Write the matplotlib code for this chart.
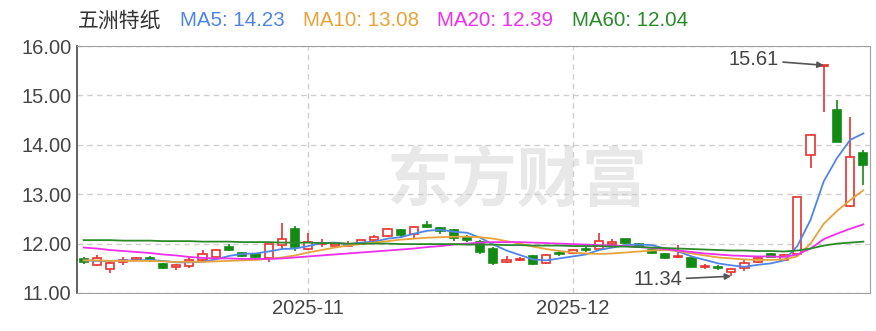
import matplotlib
matplotlib.use('Agg')
import matplotlib.pyplot as plt
import numpy as np
import pandas as pd

plt.rcParams['font.family'] = ['Liberation Sans', 'Noto Sans CJK SC', 'DejaVu Sans']

# trading days shown (Oct 9 - Dec 31 2025)
dates = pd.bdate_range('2025-10-09', '2025-12-31')

opens = [11.68, 11.56, 11.48, 11.63, 11.66, 11.71, 11.58, 11.52, 11.55, 11.67,
         11.73, 11.93, 11.80, 11.78, 11.70, 11.97, 12.29, 11.90, 12.00, 11.96,
         11.95, 12.00, 12.07, 12.16, 12.28, 12.19, 12.38, 12.31, 12.28, 12.14,
         12.04, 11.90, 11.62, 11.67, 11.74, 11.61, 11.81, 11.80, 11.89, 11.90,
         12.00, 12.09, 12.00, 11.87, 11.79, 11.72, 11.70, 11.53, 11.53, 11.42,
         11.50, 11.63, 11.78, 11.67, 11.78, 13.79, 15.60, 14.70, 12.76, 13.83]
highs = [11.72, 11.76, 11.62, 11.72, 11.72, 11.75, 11.60, 11.58, 11.72, 11.87,
         11.90, 11.99, 11.83, 11.80, 12.00, 12.42, 12.36, 12.21, 12.10, 12.03,
         12.05, 12.08, 12.17, 12.31, 12.30, 12.36, 12.46, 12.33, 12.30, 12.17,
         12.08, 11.93, 11.74, 11.73, 11.76, 11.79, 11.86, 11.89, 11.93, 12.22,
         12.10, 12.10, 12.02, 11.89, 11.81, 11.97, 11.72, 11.58, 11.56, 11.50,
         11.68, 11.72, 11.80, 11.78, 12.94, 14.22, 15.61, 14.91, 14.57, 13.89]
lows = [11.58, 11.54, 11.40, 11.56, 11.64, 11.63, 11.48, 11.47, 11.50, 11.64,
        11.72, 11.85, 11.72, 11.70, 11.62, 11.90, 11.86, 11.88, 11.93, 11.94,
        11.93, 11.98, 12.05, 12.14, 12.11, 12.11, 12.32, 12.20, 12.05, 12.03,
        11.79, 11.57, 11.61, 11.65, 11.57, 11.59, 11.74, 11.78, 11.83, 11.88,
        11.98, 12.00, 11.91, 11.79, 11.68, 11.70, 11.52, 11.48, 11.46, 11.34,
        11.45, 11.60, 11.72, 11.66, 11.72, 13.54, 14.67, 14.05, 12.75, 13.19]
closes = [11.63, 11.70, 11.60, 11.67, 11.70, 11.66, 11.50, 11.56, 11.67, 11.78,
          11.88, 11.88, 11.74, 11.72, 11.99, 12.10, 11.93, 12.03, 12.02, 12.00,
          11.99, 12.07, 12.14, 12.29, 12.17, 12.34, 12.34, 12.25, 12.12, 12.07,
          11.84, 11.60, 11.66, 11.69, 11.59, 11.77, 11.78, 11.87, 11.87, 12.05,
          12.03, 12.02, 11.93, 11.81, 11.70, 11.74, 11.53, 11.55, 11.50, 11.48,
          11.60, 11.70, 11.73, 11.77, 12.94, 14.20, 15.61, 14.06, 13.75, 13.59]

ma5 = [11.66, 11.65, 11.65, 11.66, 11.66, 11.67, 11.65, 11.62, 11.62, 11.63,
       11.68, 11.75, 11.79, 11.80, 11.84, 11.89, 11.90, 11.95, 12.01, 12.02,
       11.99, 12.02, 12.04, 12.10, 12.13, 12.20, 12.26, 12.28, 12.24, 12.22,
       12.12, 11.98, 11.86, 11.77, 11.68, 11.66, 11.70, 11.74, 11.78, 11.87,
       11.92, 11.97, 11.98, 11.97, 11.90, 11.84, 11.74, 11.67, 11.60, 11.56,
       11.53, 11.57, 11.60, 11.66, 11.95, 12.48, 13.26, 13.73, 14.10, 14.23]
ma10 = [11.66, 11.66, 11.65, 11.65, 11.65, 11.65, 11.64, 11.63, 11.63, 11.63,
        11.64, 11.65, 11.66, 11.67, 11.69, 11.72, 11.76, 11.82, 11.87, 11.92,
        11.96, 11.99, 12.02, 12.05, 12.08, 12.10, 12.12, 12.13, 12.14, 12.14,
        12.13, 12.10, 12.05, 12.00, 11.94, 11.89, 11.85, 11.82, 11.80, 11.79,
        11.80, 11.82, 11.84, 11.86, 11.87, 11.85, 11.80, 11.76, 11.72, 11.70,
        11.68, 11.67, 11.67, 11.68, 11.74, 12.00, 12.40, 12.66, 12.88, 13.08]
ma20 = [11.92, 11.90, 11.87, 11.85, 11.83, 11.81, 11.78, 11.76, 11.73, 11.71,
        11.70, 11.70, 11.69, 11.69, 11.69, 11.70, 11.72, 11.74, 11.76, 11.78,
        11.80, 11.82, 11.84, 11.86, 11.88, 11.90, 11.93, 11.95, 11.98, 12.00,
        12.02, 12.03, 12.03, 12.03, 12.02, 12.01, 12.00, 11.99, 11.98, 11.97,
        11.96, 11.95, 11.93, 11.91, 11.89, 11.86, 11.83, 11.80, 11.78, 11.76,
        11.75, 11.74, 11.74, 11.73, 11.78, 11.90, 12.09, 12.20, 12.30, 12.39]
ma60 = [12.07, 12.07, 12.07, 12.06, 12.06, 12.06, 12.05, 12.05, 12.05, 12.04,
        12.04, 12.04, 12.03, 12.03, 12.03, 12.02, 12.02, 12.02, 12.01, 12.01,
        12.00, 12.00, 12.00, 12.00, 11.99, 11.99, 11.99, 11.99, 11.99, 11.98,
        11.98, 11.98, 11.97, 11.97, 11.96, 11.96, 11.96, 11.95, 11.95, 11.95,
        11.94, 11.94, 11.93, 11.92, 11.91, 11.90, 11.89, 11.88, 11.87, 11.86,
        11.86, 11.85, 11.85, 11.84, 11.86, 11.90, 11.96, 12.00, 12.02, 12.04]

ma_labels = ['MA5: 14.23', 'MA10: 13.08', 'MA20: 12.39', 'MA60: 12.04']
ma_colors = ['#4f86e6', '#e8a33a', '#ee2fee', '#2a8a2a']
up_color = '#e8312f'
down_color = '#138a13'

o = np.array(opens); h = np.array(highs); l = np.array(lows); c = np.array(closes)
x = np.arange(len(dates))
up = c >= o

fig = plt.figure(figsize=(8.76, 3.31), dpi=100)
ax = fig.add_axes([77/876, 1 - 293/331, 793/876, 247/331])

# watermark
ax.text(0.555, 0.45, '东方财富', transform=ax.transAxes, fontsize=47, fontweight='bold',
        color='#e8e8e8', ha='center', va='center', family=['Noto Sans CJK SC'], zorder=0)

# candles
for i in x:
    col = up_color if up[i] else down_color
    ax.vlines(i, l[i], h[i], color=col, linewidth=1.2, zorder=2)
body_lo = np.minimum(o, c)
body_h = np.maximum(np.abs(c - o), 0.012)
ax.bar(x[up], body_h[up], bottom=body_lo[up], width=0.62, facecolor='white',
       edgecolor=up_color, linewidth=1.2, zorder=3)
ax.bar(x[~up], body_h[~up], bottom=body_lo[~up], width=0.62, facecolor=down_color,
       edgecolor=down_color, linewidth=1.2, zorder=3)

# moving averages
for ma, col in zip([ma5, ma10, ma20, ma60], ma_colors):
    ax.plot(x, ma, color=col, linewidth=1.3, zorder=4)

# max / min markers
imax = int(np.argmax(h))
imin = int(np.argmin(l))
ax.annotate(f'{h[imax]:.2f}', xy=(imax, h[imax]), xytext=(52.6, 15.72), ha='right', va='center',
            fontsize=14.5, color='#444444',
            arrowprops=dict(arrowstyle='-|>', color='#555555', lw=1.2, mutation_scale=9,
                            shrinkA=1, shrinkB=0))
ax.annotate(f'{l[imin]:.2f}', xy=(imin, l[imin]), xytext=(45.3, 11.27), ha='right', va='center',
            fontsize=14.5, color='#444444',
            arrowprops=dict(arrowstyle='-|>', color='#555555', lw=1.2, mutation_scale=9,
                            shrinkA=1, shrinkB=0))

ax.set_xlim(-0.5, len(x) - 0.5)
ax.set_ylim(11, 16)
ax.set_yticks(np.arange(11, 16.01, 1))
ax.yaxis.set_major_formatter('{x:.2f}')

month_starts = [i for i in range(1, len(dates)) if dates[i].month != dates[i - 1].month]
ax.set_xticks(month_starts)
ax.set_xticklabels([dates[i].strftime('%Y-%m') for i in month_starts])

ax.grid(True, linestyle=(0, (4, 3)), color='#cfcfcf', linewidth=1)
ax.set_axisbelow(True)
ax.tick_params(length=0, labelsize=14.5, colors='#444444', pad=4)
for side in ['top', 'right', 'bottom']:
    ax.spines[side].set_color('#a0a0a0')
ax.spines['left'].set_color('#555555')
ax.spines['left'].set_linewidth(1.3)

# header
fig.text(78/876, 1 - 21/331, '五洲特纸', fontsize=15, color='#333333', va='center',
         family=['Noto Sans CJK SC'])
for lab, col, px in zip(ma_labels, ma_colors, [180, 303, 437, 572]):
    fig.text(px/876, 1 - 21/331, lab, fontsize=14.8, color=col, va='center')

fig.savefig('out.png', dpi=100)
